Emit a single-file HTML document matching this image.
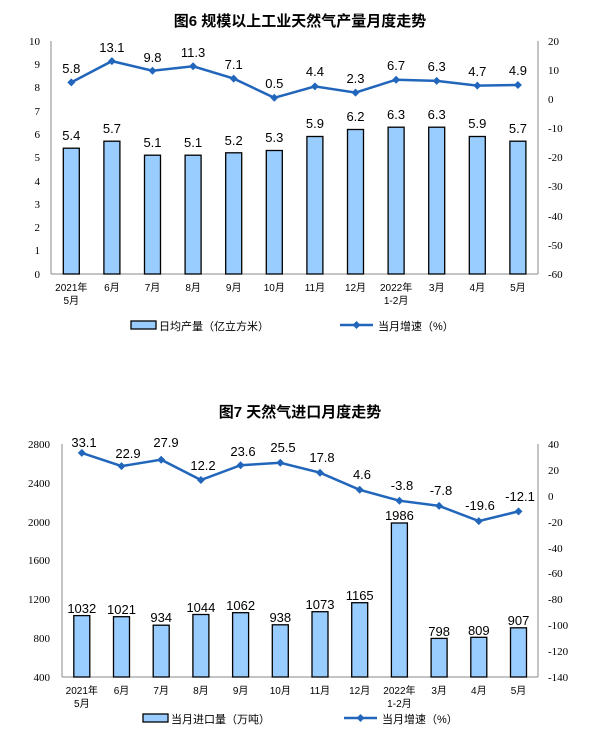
<!DOCTYPE html>
<html><head><meta charset="utf-8"><style>
body{margin:0;background:#fff}
svg{display:block}
.t{font-family:"Liberation Sans","Noto Sans CJK SC",sans-serif;font-weight:bold;font-size:15px;fill:#000}
.ax{font-family:"Liberation Serif",serif;font-size:11px;fill:#000}
.xl{font-family:"Liberation Sans","Noto Sans CJK SC",sans-serif;font-size:10px;fill:#000}
.v{font-family:"Liberation Sans",sans-serif;font-size:13px;fill:#000}
.bar{fill:#99ccff;stroke:#000;stroke-width:1.3}
.ln{fill:none;stroke:#2266bb;stroke-width:2.5}
</style></head><body>
<svg width="609" height="741" viewBox="0 0 609 741">
<text class="t" x="300" y="26" text-anchor="middle">图6  规模以上工业天然气产量月度走势</text>
<g stroke="#888" stroke-width="1">
<line x1="51" y1="41" x2="51" y2="274"/><line x1="51" y1="274" x2="538" y2="274"/><line x1="538" y1="41" x2="538" y2="274"/>
</g>
<g class="ax" text-anchor="end">
<text x="40" y="45">10</text><text x="40" y="68">9</text><text x="40" y="91">8</text><text x="40" y="115">7</text><text x="40" y="138">6</text><text x="40" y="161">5</text><text x="40" y="185">4</text><text x="40" y="208">3</text><text x="40" y="231">2</text><text x="40" y="254">1</text><text x="40" y="278">0</text>
</g>
<g class="ax">
<text x="548" y="45">20</text><text x="548" y="74">10</text><text x="548" y="103">0</text><text x="548" y="132">-10</text><text x="548" y="161">-20</text><text x="548" y="190">-30</text><text x="548" y="220">-40</text><text x="548" y="249">-50</text><text x="548" y="278">-60</text>
</g>
<g class="bar">
<rect x="63.3" y="148.2" width="16" height="125.8"/><rect x="103.9" y="141.2" width="16" height="132.8"/><rect x="144.5" y="155.2" width="16" height="118.8"/><rect x="185.1" y="155.2" width="16" height="118.8"/><rect x="225.7" y="152.8" width="16" height="121.2"/><rect x="266.3" y="150.5" width="16" height="123.5"/><rect x="306.9" y="136.5" width="16" height="137.5"/><rect x="347.5" y="129.5" width="16" height="144.5"/><rect x="388.1" y="127.2" width="16" height="146.8"/><rect x="428.7" y="127.2" width="16" height="146.8"/><rect x="469.3" y="136.5" width="16" height="137.5"/><rect x="509.9" y="141.2" width="16" height="132.8"/>
</g>
<g class="v" text-anchor="middle">
<text x="71.3" y="140">5.4</text><text x="111.9" y="133">5.7</text><text x="152.5" y="147">5.1</text><text x="193.1" y="147">5.1</text><text x="233.7" y="145">5.2</text><text x="274.3" y="142">5.3</text><text x="314.9" y="128">5.9</text><text x="355.5" y="121">6.2</text><text x="396.1" y="119">6.3</text><text x="436.7" y="119">6.3</text><text x="477.3" y="128">5.9</text><text x="517.9" y="133">5.7</text>
</g>
<polyline class="ln" points="71.3,82.4 111.9,61.1 152.5,70.7 193.1,66.3 233.7,78.6 274.3,97.8 314.9,86.4 355.5,92.6 396.1,79.7 436.7,80.9 477.3,85.6 517.9,85"/>
<g fill="#2266bb">
<path d="M71.3 78.4l4 4-4 4-4-4z"/><path d="M111.9 57.1l4 4-4 4-4-4z"/><path d="M152.5 66.7l4 4-4 4-4-4z"/><path d="M193.1 62.3l4 4-4 4-4-4z"/><path d="M233.7 74.6l4 4-4 4-4-4z"/><path d="M274.3 93.8l4 4-4 4-4-4z"/><path d="M314.9 82.4l4 4-4 4-4-4z"/><path d="M355.5 88.6l4 4-4 4-4-4z"/><path d="M396.1 75.7l4 4-4 4-4-4z"/><path d="M436.7 76.9l4 4-4 4-4-4z"/><path d="M477.3 81.6l4 4-4 4-4-4z"/><path d="M517.9 81l4 4-4 4-4-4z"/>
</g>
<g class="v" text-anchor="middle">
<text x="71.3" y="73">5.8</text><text x="111.9" y="52">13.1</text><text x="152.5" y="62">9.8</text><text x="193.1" y="57">11.3</text><text x="233.7" y="69">7.1</text><text x="274.3" y="88">0.5</text><text x="314.9" y="76">4.4</text><text x="355.5" y="83">2.3</text><text x="396.1" y="70">6.7</text><text x="436.7" y="71">6.3</text><text x="477.3" y="76">4.7</text><text x="517.9" y="75">4.9</text>
</g>
<g class="xl" text-anchor="middle">
<text x="71.3" y="291">2021年</text><text x="71.3" y="304">5月</text><text x="111.9" y="291">6月</text><text x="152.5" y="291">7月</text><text x="193.1" y="291">8月</text><text x="233.7" y="291">9月</text><text x="274.3" y="291">10月</text><text x="314.9" y="291">11月</text><text x="355.5" y="291">12月</text><text x="396.1" y="291">2022年</text><text x="396.1" y="304">1-2月</text><text x="436.7" y="291">3月</text><text x="477.3" y="291">4月</text><text x="517.9" y="291">5月</text>
</g>
<rect class="bar" x="131" y="321" width="25" height="8"/>
<text class="xl" x="159" y="330" style="font-size:11px">日均产量（亿立方米）</text>
<line x1="340" y1="325" x2="373" y2="325" stroke="#2266bb" stroke-width="2.5"/><path d="M356.5 321l4 4-4 4-4-4z" fill="#2266bb"/>
<text class="xl" x="378" y="330" style="font-size:11px">当月增速（%）</text>

<text class="t" x="300" y="417" text-anchor="middle">图7  天然气进口月度走势</text>
<g stroke="#888" stroke-width="1">
<line x1="62" y1="444" x2="62" y2="677"/><line x1="62" y1="677" x2="538" y2="677"/><line x1="538" y1="444" x2="538" y2="677"/>
</g>
<g class="ax" text-anchor="end">
<text x="50" y="448">2800</text><text x="50" y="487">2400</text><text x="50" y="526">2000</text><text x="50" y="564">1600</text><text x="50" y="603">1200</text><text x="50" y="642">800</text><text x="50" y="681">400</text>
</g>
<g class="ax">
<text x="548" y="448">40</text><text x="548" y="474">20</text><text x="548" y="500">0</text><text x="548" y="526">-20</text><text x="548" y="552">-40</text><text x="548" y="577">-60</text><text x="548" y="603">-80</text><text x="548" y="629">-100</text><text x="548" y="655">-120</text><text x="548" y="681">-140</text>
</g>
<g class="bar">
<rect x="73.8" y="615.6" width="16" height="61.4"/><rect x="113.5" y="616.7" width="16" height="60.3"/><rect x="153.2" y="625.2" width="16" height="51.8"/><rect x="192.9" y="614.5" width="16" height="62.5"/><rect x="232.6" y="612.7" width="16" height="64.3"/><rect x="272.3" y="624.8" width="16" height="52.2"/><rect x="312" y="611.7" width="16" height="65.3"/><rect x="351.7" y="602.7" width="16" height="74.3"/><rect x="391.4" y="523" width="16" height="154"/><rect x="431.1" y="638.4" width="16" height="38.6"/><rect x="470.8" y="637.3" width="16" height="39.7"/><rect x="510.5" y="627.8" width="16" height="49.2"/>
</g>
<g class="v" text-anchor="middle">
<text x="81.8" y="613">1032</text><text x="121.5" y="614">1021</text><text x="161.2" y="622">934</text><text x="200.9" y="612">1044</text><text x="240.6" y="610">1062</text><text x="280.3" y="622">938</text><text x="320" y="609">1073</text><text x="359.7" y="600">1165</text><text x="399.4" y="520">1986</text><text x="439.1" y="636">798</text><text x="478.8" y="635">809</text><text x="518.5" y="625">907</text>
</g>
<polyline class="ln" points="81.8,452.9 121.5,466.1 161.2,459.7 200.9,480 240.6,465.2 280.3,462.8 320,472.7 359.7,489.8 399.4,500.7 439.1,505.9 478.8,521.1 518.5,511.4"/>
<g fill="#2266bb">
<path d="M81.8 448.9l4 4-4 4-4-4z"/><path d="M121.5 462.1l4 4-4 4-4-4z"/><path d="M161.2 455.7l4 4-4 4-4-4z"/><path d="M200.9 476l4 4-4 4-4-4z"/><path d="M240.6 461.2l4 4-4 4-4-4z"/><path d="M280.3 458.8l4 4-4 4-4-4z"/><path d="M320 468.7l4 4-4 4-4-4z"/><path d="M359.7 485.8l4 4-4 4-4-4z"/><path d="M399.4 496.7l4 4-4 4-4-4z"/><path d="M439.1 501.9l4 4-4 4-4-4z"/><path d="M478.8 517.1l4 4-4 4-4-4z"/><path d="M518.5 507.4l4 4-4 4-4-4z"/>
</g>
<g class="v" text-anchor="middle">
<text x="84" y="447">33.1</text><text x="128" y="458">22.9</text><text x="166" y="447">27.9</text><text x="203" y="470">12.2</text><text x="243" y="456">23.6</text><text x="283" y="452">25.5</text><text x="322" y="462">17.8</text><text x="362" y="479">4.6</text><text x="402" y="490">-3.8</text><text x="441" y="495">-7.8</text><text x="480" y="510">-19.6</text><text x="520" y="501">-12.1</text>
</g>
<g class="xl" text-anchor="middle">
<text x="81.8" y="694">2021年</text><text x="81.8" y="707">5月</text><text x="121.5" y="694">6月</text><text x="161.2" y="694">7月</text><text x="200.9" y="694">8月</text><text x="240.6" y="694">9月</text><text x="280.3" y="694">10月</text><text x="320" y="694">11月</text><text x="359.7" y="694">12月</text><text x="399.4" y="694">2022年</text><text x="399.4" y="707">1-2月</text><text x="439.1" y="694">3月</text><text x="478.8" y="694">4月</text><text x="518.5" y="694">5月</text>
</g>
<rect class="bar" x="143" y="714" width="25" height="8"/>
<text class="xl" x="171" y="723" style="font-size:11px">当月进口量（万吨）</text>
<line x1="344" y1="718" x2="377" y2="718" stroke="#2266bb" stroke-width="2.5"/><path d="M360.5 714l4 4-4 4-4-4z" fill="#2266bb"/>
<text class="xl" x="382" y="723" style="font-size:11px">当月增速（%）</text>
</svg>
</body></html>
